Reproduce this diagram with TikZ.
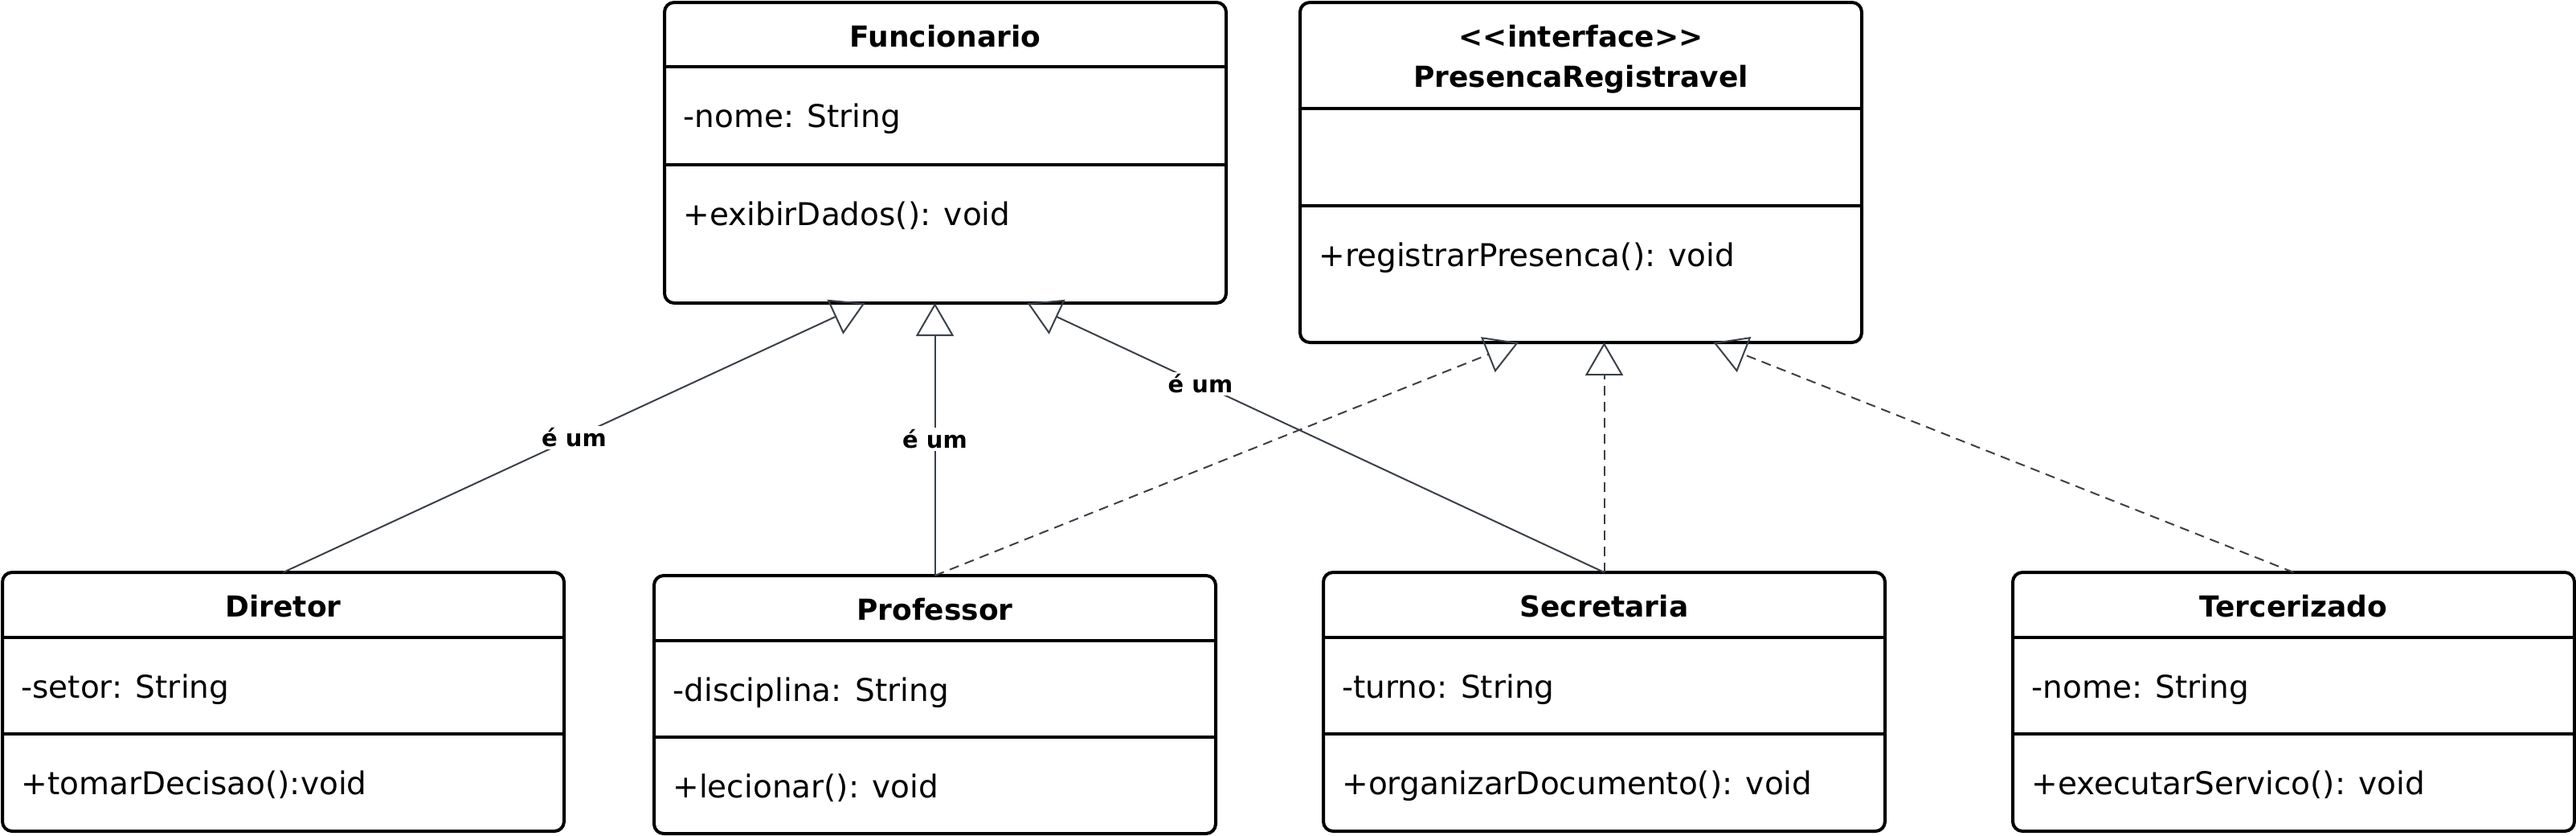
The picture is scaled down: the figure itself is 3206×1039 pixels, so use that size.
\documentclass[tikz,border=0pt]{standalone}
\usepackage{fontspec}
\setmainfont{DejaVu Sans}
\usepackage{tikz}
\usetikzlibrary{arrows.meta}
\usetikzlibrary{calc}
\definecolor{linkgray}{HTML}{3A4049}

% one class box: name, x, y, header h, attribute h, method h, title, attribute, method
\newcommand{\umlclass}[9]{%
	\node[classbox, minimum height=(#4+#5+#6)*0.5pt] (#1) at (#2,#3) {};
	\draw[classline] ($(#1.north west)+(0,#4)$) -- ++(699,0);
	\draw[classline] ($(#1.north west)+(0,#4+#5)$) -- ++(699,0);
	\node[titletext] (#1-title) at ($(#1.north)+(0,55)$) {#7};
	\node[membertext] (#1-attr) at ($(#1.north west)+(23,#4+75)$) {#8};
	\node[membertext] (#1-meth) at ($(#1.north west)+(23,#4+#5+75)$) {#9};
}

\begin{document}
\begin{tikzpicture}[x=0.5pt, y=-0.5pt,
	classbox/.style={draw, line width=2pt, rounded corners=6pt, anchor=north west,
		minimum width=349.5pt, outer sep=0pt, inner sep=0pt},
	classline/.style={line width=2pt},
	titletext/.style={font=\fontsize{18}{22}\selectfont\bfseries, anchor=base, inner sep=0pt},
	membertext/.style={font=\fontsize{19.5}{24}\selectfont, anchor=base west, inner sep=0pt},
	islabel/.style={font=\fontsize{14.5}{17}\selectfont\bfseries, text=black, fill=white, inner sep=1.5pt},
	generalization/.style={linkgray, line width=1pt, -{Triangle[open, length=20.5pt, width=23.5pt]}},
	realization/.style={generalization, dash pattern=on 6pt off 4pt}]
	\useasboundingbox (0,0) rectangle (3206,1039);

	\umlclass{func}{827}{3}{80}{122}{172}{Funcionario}{-nome: String}{+exibirDados(): void}
	\umlclass{iface}{1618}{3}{132}{121}{170}{<\kern0pt<interface>\kern0pt>}{}{+registrarPresenca(): void}
	\node[titletext] (iface-title2) at ($(iface.north)+(0,105)$) {PresencaRegistravel};

	\umlclass{dir}{3}{712}{81}{120}{121}{Diretor}{-setor: String}{+tomarDecisao():void}
	\umlclass{prof}{814}{716}{81}{120}{120}{Professor}{-disciplina: String}{+lecionar(): void}
	\umlclass{sec}{1647}{712}{81}{120}{121}{Secretaria}{-turno: String}{+organizarDocumento(): void}
	\umlclass{terc}{2505}{712}{81}{120}{121}{Tercerizado}{-nome: String}{+executarServico(): void}

	% arrow ends on the two upper boxes
	\coordinate (func-d) at ($(func.south west)!0.357!(func.south east)$);
	\coordinate (func-s) at ($(func.south west)!0.646!(func.south east)$);
	\coordinate (iface-p) at ($(iface.south west)!0.389!(iface.south east)$);
	\coordinate (iface-t) at ($(iface.south west)!0.736!(iface.south east)$);

	\draw[generalization] (dir.north) -- node[islabel] (lbl-dir) {é um} (func-d);
	\draw[generalization] (prof.north) -- node[islabel] (lbl-prof) {é um} (prof.north |- func.south);
	\draw[generalization] (sec.north) -- node[islabel, pos=0.7] (lbl-sec) {é um} (func-s);

	\draw[realization] (prof.north) -- (iface-p);
	\draw[realization] (sec.north) -- (sec.north |- iface.south);
	\draw[realization] (terc.north) -- (iface-t);
\end{tikzpicture}
\end{document}
